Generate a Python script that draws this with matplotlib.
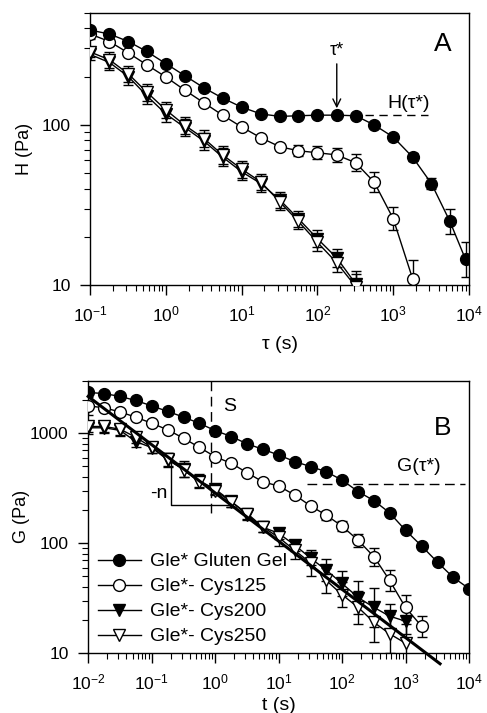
import numpy as np
import matplotlib
matplotlib.use('Agg')
import matplotlib.pyplot as plt
from matplotlib.ticker import FixedLocator, FixedFormatter, LogLocator, NullFormatter

plt.rcParams['font.family'] = ['Liberation Sans', 'DejaVu Sans']
plt.rcParams['mathtext.fontset'] = 'custom'
plt.rcParams['mathtext.rm'] = 'Liberation Sans'
plt.rcParams['mathtext.it'] = 'Liberation Sans:italic'
plt.rcParams['axes.unicode_minus'] = False

# ---------------- Panel A : H(tau) ----------------
tau_a = [0.1, 0.18, 0.32, 0.56, 1.0, 1.8, 3.2, 5.6, 10, 18, 32, 56, 100, 180,
         320, 560, 1000, 1800, 3200, 5600, 9000]
H_gel = [390, 369, 331, 287, 241, 202, 170, 147, 129, 117, 113, 114, 115, 115,
         114, 100, 84, 63, 43, 25, 14.5]
H_gel_err = [0.02, 0.02, 0.02, 0.02, 0.02, 0.02, 0.02, 0.02, 0.02, 0.02, 0.02, 0.02, 0.02, 0.02,
             0.02, 0.03, 0.04, 0.06, 0.08, 0.19, 0.28]
H_c125 = [369, 331, 281, 237, 199, 164, 137, 115, 97, 83, 73, 69, 67, 65, 58, 44, 26, 11]
H_c125_err = [0.08, 0.06, 0.03, 0.03, 0.03, 0.03, 0.03, 0.03, 0.03, 0.03, 0.04, 0.08, 0.1,
              0.11, 0.13, 0.16, 0.18, 0.3]
H_c200 = [275, 245, 200, 152, 117, 96, 79, 63, 51, 43, 34, 26, 19.5, 14.8, 10.2]
H_c250 = [285, 255, 208, 160, 124, 99, 82, 65, 53, 44, 33, 25, 18.5, 13.8, 9.8]
H_tri_err = [0.08, 0.12, 0.12, 0.13, 0.12, 0.13, 0.13, 0.14, 0.13, 0.12, 0.12, 0.12,
             0.13, 0.14, 0.2]

# ---------------- Panel B : G(t) ----------------
t_b = [0.01, 0.018, 0.032, 0.056, 0.1, 0.18, 0.32, 0.56, 1.0, 1.8, 3.2, 5.6, 10, 18, 32,
       56, 100, 180, 320, 560, 1000, 1800, 3200, 5600, 10000]
G_gel = [2350, 2290, 2160, 1985, 1774, 1577, 1400, 1233, 1057, 933, 800, 715, 634, 552,
         497, 447, 375, 294, 243, 189, 131, 94, 67, 49, 38.6]
G_c125 = [1774, 1700, 1560, 1400, 1233, 1072, 899, 745, 612, 532, 437, 362, 331, 274,
          218, 180, 143, 106, 75, 46, 26, 17.5]
G_c125_err = [0.2, 0.03, 0.03, 0.03, 0.03, 0.03, 0.03, 0.03, 0.03, 0.03, 0.04, 0.05, 0.05,
              0.06, 0.06, 0.1, 0.12, 0.15, 0.2, 0.25, 0.3, 0.25]
G_c200 = [1120, 1120, 1060, 840, 740, 570, 470, 370, 310, 240, 180, 140, 123, 96, 73, 57,
          43, 32, 26, 21.7, 19.5]
G_c200_err = [0.15, 0.12, 0.12, 0.12, 0.12, 0.15, 0.18, 0.15, 0.1, 0.12, 0.12, 0.12, 0.12,
              0.12, 0.15, 0.25, 0.3, 0.4, 0.5, 0.3, 0.3]
G_c250 = [1151, 1151, 1087, 920, 745, 579, 463, 362, 300, 238, 186, 141, 113, 86, 66, 46,
          34, 26, 19, 15, 12.3]
G_c250_err = [0.12, 0.12, 0.12, 0.12, 0.12, 0.15, 0.15, 0.15, 0.1, 0.12, 0.12, 0.12, 0.2,
              0.2, 0.3, 0.3, 0.3, 0.4, 0.5, 0.5, 0.5]

# power-law fit line, slope triangle and guide lines
fit_t = [0.01, 3500]
fit_G = [2160, 8.0]
tri_t = [0.2, 0.2, 1.8]
tri_G = [552, 222, 222]
s_t = 0.85
tau_star = 180
H_star = 115
G_star = 343

fig = plt.figure(figsize=(4.87, 7.13), dpi=100)
axA = fig.add_axes([0.185, 0.600, 0.778, 0.382])
axB = fig.add_axes([0.181, 0.084, 0.782, 0.382])

ms = 8.5
kw = dict(color='black', lw=1.0, capsize=3.5, elinewidth=1.0, capthick=1.0)


def err(y, rel):
    y = np.array(y, dtype=float)
    r = np.array(rel, dtype=float)
    return [y - y / (1 + r), y * r]


# Panel A
axA.errorbar(tau_a[:len(H_c200)], H_c200, yerr=err(H_c200, H_tri_err), marker='v',
             mfc='black', mec='black', ms=ms, zorder=3, **kw)
axA.errorbar(tau_a[:len(H_c250)], H_c250, yerr=err(H_c250, H_tri_err), marker='v',
             mfc='white', mec='black', ms=ms, zorder=4, **kw)
axA.errorbar(tau_a[:len(H_c125)], H_c125, yerr=err(H_c125, H_c125_err), marker='o',
             mfc='white', mec='black', ms=ms, zorder=5, **kw)
axA.errorbar(tau_a, H_gel, yerr=err(H_gel, H_gel_err), marker='o',
             mfc='black', mec='black', ms=ms, zorder=6, **kw)
axA.plot([420, 2900], [H_star, H_star], color='black', lw=1.0, dashes=(6, 4))
axA.annotate('', xy=(tau_star, 122), xytext=(tau_star, 250),
             arrowprops=dict(arrowstyle='->', color='black', lw=1.0, mutation_scale=14))
axA.text(tau_star, 258, 'τ*', ha='center', va='bottom', fontsize=13)
axA.text(1600, 120, 'H(τ*)', ha='center', va='bottom', fontsize=14)
axA.text(0.955, 0.93, 'A', transform=axA.transAxes, ha='right', va='top', fontsize=19)
axA.set_xlim(0.1, 1e4)
axA.set_ylim(10, 500)
axA.set_ylabel('H (Pa)', fontsize=13, labelpad=6)
axA.set_xlabel('τ (s)', fontsize=14, labelpad=8)

# Panel B
axB.plot(fit_t, fit_G, color='black', lw=2.2, zorder=7, clip_on=False)
axB.errorbar(t_b[:len(G_c200)], G_c200, yerr=err(G_c200, G_c200_err), marker='v',
             mfc='black', mec='black', ms=ms, zorder=3, label='Gle*- Cys200', **kw)
axB.errorbar(t_b[:len(G_c250)], G_c250, yerr=err(G_c250, G_c250_err), marker='v',
             mfc='white', mec='black', ms=ms, zorder=4, label='Gle*- Cys250', **kw)
axB.errorbar(t_b[:len(G_c125)], G_c125, yerr=err(G_c125, G_c125_err), marker='o',
             mfc='white', mec='black', ms=ms, zorder=5, label='Gle*- Cys125', **kw)
axB.errorbar(t_b, G_gel, marker='o', mfc='black', mec='black', ms=ms, zorder=6,
             label='Gle* Gluten Gel', **kw)
axB.plot(tri_t, tri_G, color='black', lw=1.0)
axB.plot([s_t, s_t], [3000, 170], color='black', lw=1.0, dashes=(7, 4))
axB.plot([28, 8500], [G_star, G_star], color='black', lw=1.0, dashes=(7, 4))
axB.text(0.13, 285, '-n', ha='center', va='center', fontsize=14)
axB.text(1.35, 1750, 'S', ha='left', va='center', fontsize=14)
axB.text(1600, 500, 'G(τ*)', ha='center', va='center', fontsize=14)
axB.text(0.955, 0.87, 'B', transform=axB.transAxes, ha='right', va='top', fontsize=19)
axB.set_xlim(0.01, 1e4)
axB.set_ylim(10, 3000)
axB.set_ylabel('G (Pa)', fontsize=13, labelpad=0)
axB.set_xlabel('t (s)', fontsize=14, labelpad=3)

h, l = axB.get_legend_handles_labels()
order = [3, 2, 0, 1]
axB.legend([h[i][0] for i in order], [l[i] for i in order], loc='lower left',
           frameon=False, fontsize=14, handlelength=2.2, handletextpad=0.5,
           labelspacing=0.38, borderaxespad=0.0, bbox_to_anchor=(0.005, 0.0))

for ax in (axA, axB):
    ax.set_xscale('log')
    ax.set_yscale('log')
    ax.xaxis.set_major_locator(LogLocator(base=10, numticks=10))
    ax.xaxis.set_minor_locator(LogLocator(base=10, subs=np.arange(2, 10), numticks=20))
    ax.xaxis.set_minor_formatter(NullFormatter())
    ax.yaxis.set_minor_locator(LogLocator(base=10, subs=np.arange(2, 10), numticks=20))
    ax.yaxis.set_minor_formatter(NullFormatter())
    ax.tick_params(which='major', direction='out', length=7, width=1, labelsize=12.5, pad=7)
    ax.tick_params(which='minor', direction='out', length=4, width=0.8)
    for sp in ax.spines.values():
        sp.set_linewidth(1.0)

axA.yaxis.set_major_locator(FixedLocator([10, 100]))
axA.yaxis.set_major_formatter(FixedFormatter(['10', '100']))
axB.yaxis.set_major_locator(FixedLocator([10, 100, 1000]))
axB.yaxis.set_major_formatter(FixedFormatter(['10', '100', '1000']))

fig.savefig('out.png', dpi=100)
